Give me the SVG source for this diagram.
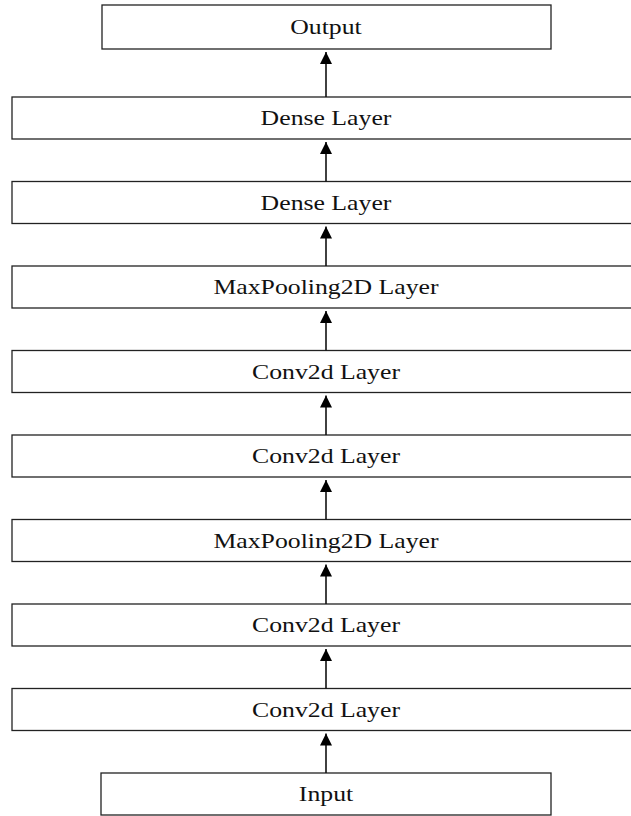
<svg xmlns="http://www.w3.org/2000/svg" width="631" height="816" viewBox="0 0 631 816">
<defs>
<marker id="ah" viewBox="0 0 12 12" refX="12" refY="6" markerWidth="12" markerHeight="12" markerUnits="userSpaceOnUse" orient="auto">
<path d="M0,0 L12,6 L0,12 Z" fill="#000"/>
</marker>
</defs>
<style>
rect{fill:#fff;stroke:#222;stroke-width:1.3}
text{font-family:"Liberation Serif","Times New Roman",serif;font-size:22px;fill:#111;text-anchor:middle}
.c line{stroke:#111;stroke-width:1.6}
</style>
<rect x="0" y="0" width="631" height="816" style="fill:#fff;stroke:none"/>
<g id="output"><rect x="102" y="5" width="449" height="44"/><text transform="translate(326 34) scale(1.17 1)">Output</text></g>
<g id="dense2"><rect x="12" y="97" width="630" height="42"/><text transform="translate(326 125) scale(1.17 1)">Dense Layer</text></g>
<g id="dense1"><rect x="12" y="181.5" width="630" height="42"/><text transform="translate(326 209.5) scale(1.17 1)">Dense Layer</text></g>
<g id="maxpool2"><rect x="12" y="266" width="630" height="42"/><text transform="translate(326 294) scale(1.17 1)">MaxPooling2D Layer</text></g>
<g id="conv4"><rect x="12" y="350.5" width="630" height="42"/><text transform="translate(326 378.5) scale(1.17 1)">Conv2d Layer</text></g>
<g id="conv3"><rect x="12" y="435" width="630" height="42"/><text transform="translate(326 463) scale(1.17 1)">Conv2d Layer</text></g>
<g id="maxpool1"><rect x="12" y="519.5" width="630" height="42"/><text transform="translate(326 547.5) scale(1.17 1)">MaxPooling2D Layer</text></g>
<g id="conv2"><rect x="12" y="604" width="630" height="42"/><text transform="translate(326 632) scale(1.17 1)">Conv2d Layer</text></g>
<g id="conv1"><rect x="12" y="688.5" width="630" height="42"/><text transform="translate(326 716.5) scale(1.17 1)">Conv2d Layer</text></g>
<g id="input"><rect x="101" y="773" width="450" height="42"/><text transform="translate(326 801) scale(1.17 1)">Input</text></g>
<g class="c" id="connectors">
<line x1="326" y1="97" x2="326" y2="52" marker-end="url(#ah)"/>
<line x1="326" y1="181.5" x2="326" y2="142" marker-end="url(#ah)"/>
<line x1="326" y1="266" x2="326" y2="226.5" marker-end="url(#ah)"/>
<line x1="326" y1="350.5" x2="326" y2="311" marker-end="url(#ah)"/>
<line x1="326" y1="435" x2="326" y2="395.5" marker-end="url(#ah)"/>
<line x1="326" y1="519.5" x2="326" y2="480" marker-end="url(#ah)"/>
<line x1="326" y1="604" x2="326" y2="564.5" marker-end="url(#ah)"/>
<line x1="326" y1="688.5" x2="326" y2="649" marker-end="url(#ah)"/>
<line x1="326" y1="773" x2="326" y2="733.5" marker-end="url(#ah)"/>
</g>
</svg>
